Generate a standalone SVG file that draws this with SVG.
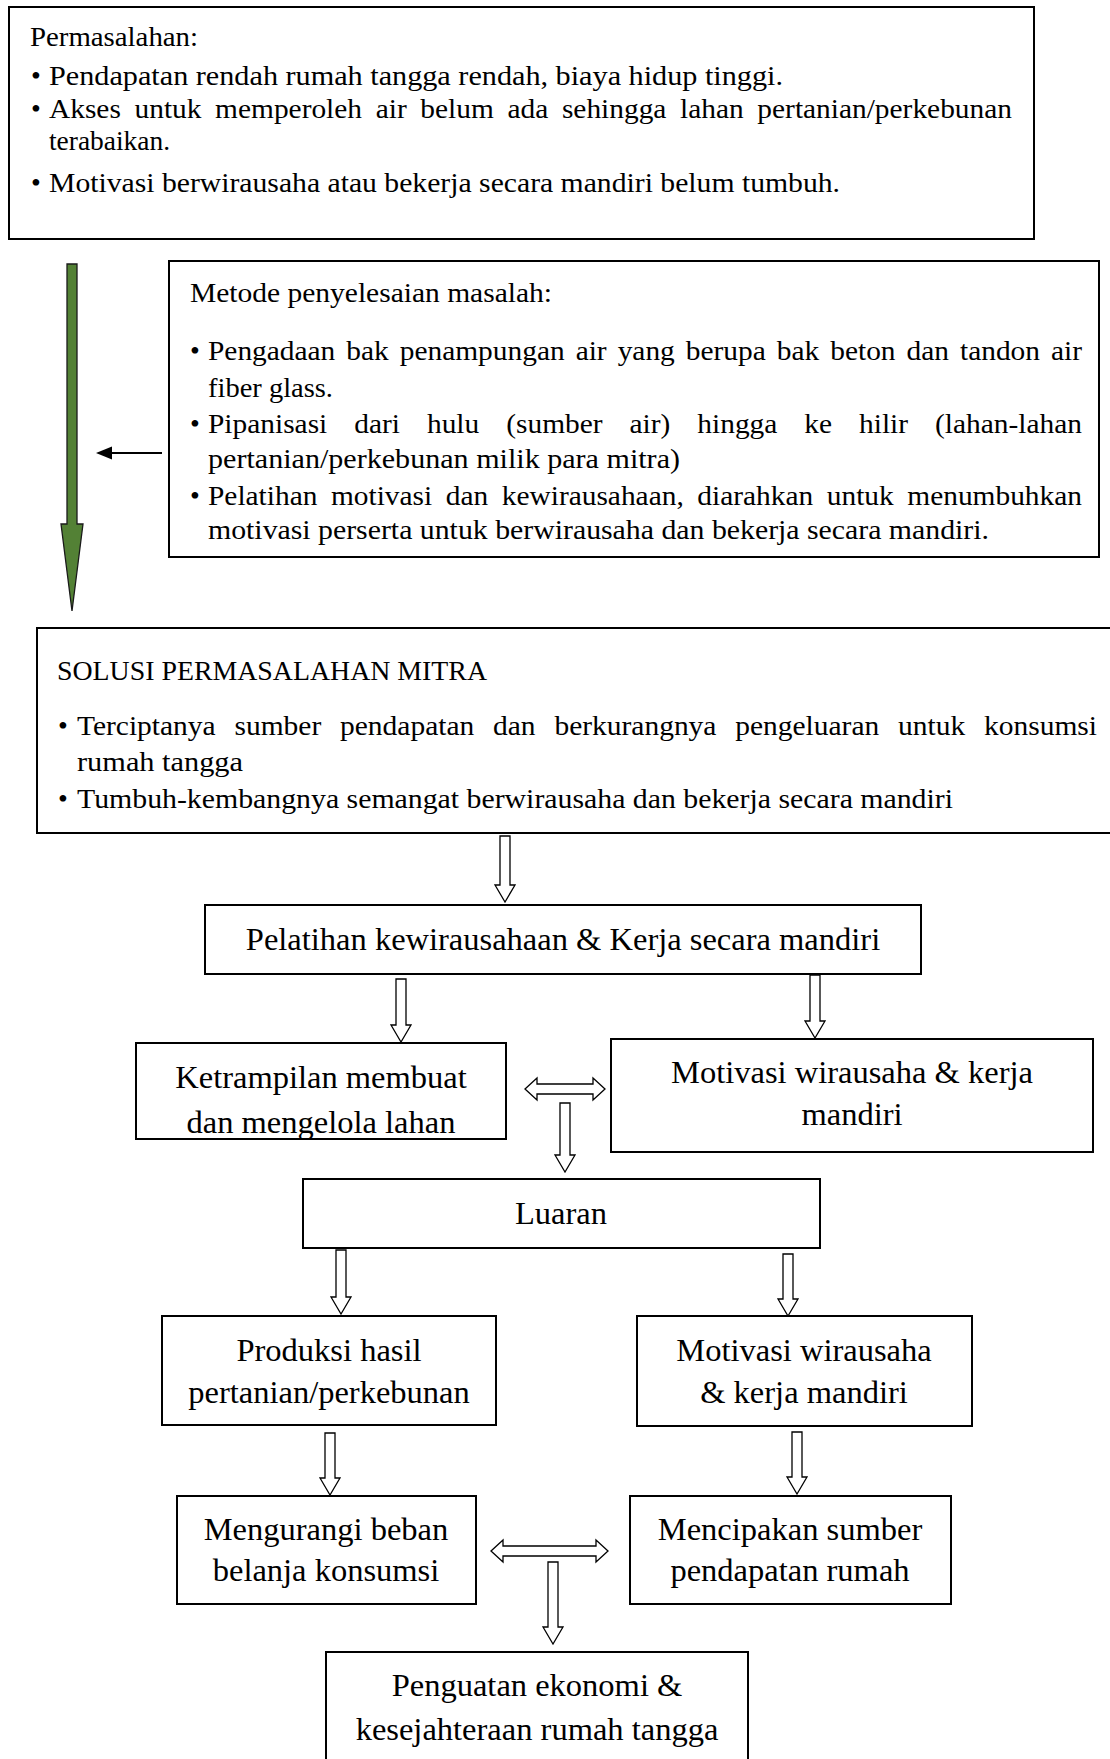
<svg xmlns="http://www.w3.org/2000/svg" width="1110" height="1759" viewBox="0 0 1110 1759">
<style>
.box{fill:#fff;stroke:#000;stroke-width:2}
.t{font-family:"Liberation Serif","Times New Roman",serif;font-size:28px;fill:#000}
.tl{font-family:"Liberation Serif","Times New Roman",serif;font-size:32.5px;fill:#000;text-anchor:middle}
.ha{fill:#fff;stroke:#000;stroke-width:1.3;stroke-linejoin:miter}
</style>
<defs>
<clipPath id="clipK"><rect x="137" y="1044" width="368" height="94"/></clipPath>
</defs>
<rect width="1110" height="1759" fill="#fff"/>

<g id="permasalahan">
<rect class="box" x="9" y="7" width="1025" height="232"/>
<text class="t" x="30" y="46" textLength="168" lengthAdjust="spacingAndGlyphs">Permasalahan:</text>
<text class="t" x="31" y="85">•</text>
<text class="t" x="49" y="85" textLength="734" lengthAdjust="spacingAndGlyphs">Pendapatan rendah rumah tangga rendah, biaya hidup tinggi.</text>
<text class="t" x="31" y="118">•</text>
<text class="t" x="49" y="118" word-spacing="6" textLength="963" lengthAdjust="spacingAndGlyphs">Akses untuk memperoleh air belum ada sehingga lahan pertanian/perkebunan</text>
<text class="t" x="49" y="150" textLength="121" lengthAdjust="spacingAndGlyphs">terabaikan.</text>
<text class="t" x="31" y="192">•</text>
<text class="t" x="49" y="192" textLength="791" lengthAdjust="spacingAndGlyphs">Motivasi berwirausaha atau bekerja secara mandiri belum tumbuh.</text>
</g>

<g id="metode">
<rect class="box" x="169" y="261" width="930" height="296"/>
<text class="t" x="190" y="302" textLength="362" lengthAdjust="spacingAndGlyphs">Metode penyelesaian masalah:</text>
<text class="t" x="190" y="360">•</text>
<text class="t" x="208" y="360" word-spacing="3.5" textLength="874" lengthAdjust="spacingAndGlyphs">Pengadaan bak penampungan air yang berupa bak beton dan tandon air</text>
<text class="t" x="208" y="397" textLength="125" lengthAdjust="spacingAndGlyphs">fiber glass.</text>
<text class="t" x="190" y="433">•</text>
<text class="t" x="208" y="433" word-spacing="18.7" textLength="874" lengthAdjust="spacingAndGlyphs">Pipanisasi dari hulu (sumber air) hingga ke hilir (lahan-lahan</text>
<text class="t" x="208" y="468" textLength="472" lengthAdjust="spacingAndGlyphs">pertanian/perkebunan milik para mitra)</text>
<text class="t" x="190" y="505">•</text>
<text class="t" x="208" y="505" word-spacing="5.9" textLength="874" lengthAdjust="spacingAndGlyphs">Pelatihan motivasi dan kewirausahaan, diarahkan untuk menumbuhkan</text>
<text class="t" x="208" y="539" textLength="781" lengthAdjust="spacingAndGlyphs">motivasi perserta untuk berwirausaha dan bekerja secara mandiri.</text>
</g>

<g id="solusi">
<rect class="box" x="37" y="628" width="1090" height="205"/>
<text class="t" x="57" y="680" textLength="430" lengthAdjust="spacingAndGlyphs">SOLUSI PERMASALAHAN MITRA</text>
<text class="t" x="58" y="735">•</text>
<text class="t" x="77" y="735" word-spacing="10.9" textLength="1020" lengthAdjust="spacingAndGlyphs">Terciptanya sumber pendapatan dan berkurangnya pengeluaran untuk konsumsi</text>
<text class="t" x="77" y="771" textLength="166" lengthAdjust="spacingAndGlyphs">rumah tangga</text>
<text class="t" x="58" y="808">•</text>
<text class="t" x="77" y="808" textLength="876" lengthAdjust="spacingAndGlyphs">Tumbuh-kembangnya semangat berwirausaha dan bekerja secara mandiri</text>
</g>

<g id="pelatihan">
<rect class="box" x="205" y="905" width="716" height="69"/>
<text class="tl" x="563" y="950">Pelatihan kewirausahaan &amp; Kerja secara mandiri</text>
</g>

<g id="ketrampilan">
<rect class="box" x="136" y="1043" width="370" height="96"/>
<g clip-path="url(#clipK)">
<text class="tl" x="321" y="1088">Ketrampilan membuat</text>
<text class="tl" x="321" y="1133">dan mengelola lahan</text>
</g>
</g>

<g id="motivasi1">
<rect class="box" x="611" y="1039" width="482" height="113"/>
<text class="tl" x="852" y="1083">Motivasi wirausaha &amp; kerja</text>
<text class="tl" x="852" y="1125">mandiri</text>
</g>

<g id="luaran">
<rect class="box" x="303" y="1179" width="517" height="69"/>
<text class="tl" x="561" y="1224">Luaran</text>
</g>

<g id="produksi">
<rect class="box" x="162" y="1316" width="334" height="109"/>
<text class="tl" x="329" y="1361">Produksi hasil</text>
<text class="tl" x="329" y="1403">pertanian/perkebunan</text>
</g>

<g id="motivasi2">
<rect class="box" x="637" y="1316" width="335" height="110"/>
<text class="tl" x="804" y="1361">Motivasi wirausaha</text>
<text class="tl" x="804" y="1403">&amp; kerja mandiri</text>
</g>

<g id="mengurangi">
<rect class="box" x="177" y="1496" width="299" height="108"/>
<text class="tl" x="326" y="1540">Mengurangi beban</text>
<text class="tl" x="326" y="1581">belanja konsumsi</text>
</g>

<g id="mencipakan">
<rect class="box" x="630" y="1496" width="321" height="108"/>
<text class="tl" x="790" y="1540">Mencipakan sumber</text>
<text class="tl" x="790" y="1581">pendapatan rumah</text>
</g>

<g id="penguatan">
<rect class="box" x="326" y="1652" width="422" height="115"/>
<text class="tl" x="537" y="1696">Penguatan ekonomi &amp;</text>
<text class="tl" x="537" y="1740">kesejahteraan rumah tangga</text>
</g>

<g id="connectors">
<path d="M67 264 H77 V524 H83 L72 611 L61 524 H67 Z" fill="#538135" stroke="#1a1a1a" stroke-width="1.3"/>
<line x1="162" y1="453" x2="108" y2="453" stroke="#000" stroke-width="2"/>
<path d="M96 453 L112 446.5 L112 459.5 Z" fill="#000"/>
<path class="ha" d="M500 836 H510 V885 H515 L505 902 L495 885 H500 Z"/>
<path class="ha" d="M396 979 H406 V1025 H411 L401 1042 L391 1025 H396 Z"/>
<path class="ha" d="M810 975 H820 V1021 H825 L815 1038 L805 1021 H810 Z"/>
<path class="ha" d="M525 1089 L537 1078 V1084 H593 V1078 L605 1089 L593 1100 V1094 H537 V1100 Z"/>
<path class="ha" d="M560 1103 H570 V1155 H575 L565 1172 L555 1155 H560 Z"/>
<path class="ha" d="M336 1250 H346 V1297 H351 L341 1314 L331 1297 H336 Z"/>
<path class="ha" d="M783 1254 H793 V1299 H798 L788 1316 L778 1299 H783 Z"/>
<path class="ha" d="M325 1433 H335 V1478 H340 L330 1495 L320 1478 H325 Z"/>
<path class="ha" d="M792 1432 H802 V1477 H807 L797 1494 L787 1477 H792 Z"/>
<path class="ha" d="M491 1551 L503 1540 V1546 H596 V1540 L608 1551 L596 1562 V1556 H503 V1562 Z"/>
<path class="ha" d="M548 1562 H558 V1627 H563 L553 1644 L543 1627 H548 Z"/>
</g>
</svg>
